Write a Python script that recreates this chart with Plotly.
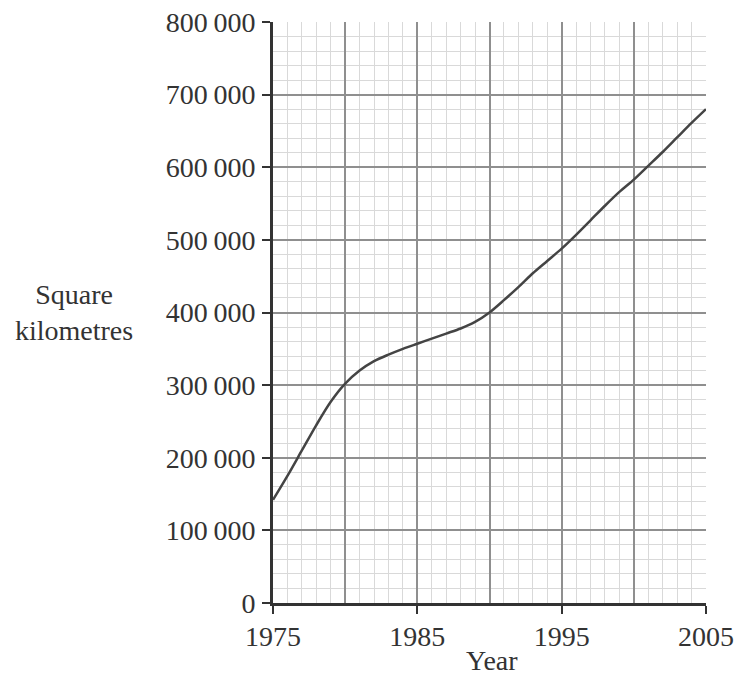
import plotly.graph_objects as go

years = list(range(1975, 2006))
area_km2 = [142000, 175000, 210000, 245000, 277000, 302000, 320000, 333000, 342000, 350000,
            357000, 364000, 371000, 378000, 387000, 400000, 417000, 435000, 454000, 471000,
            488000, 507000, 527000, 547000, 566000, 583000, 602000, 621000, 641000, 661000, 680000]

x_tick_vals = [1975, 1985, 1995, 2005]
x_tick_text = ["1975", "1985", "1995", "2005"]
x_mid_vals = [1980, 1990, 2000]
y_tick_vals = [0, 100000, 200000, 300000, 400000, 500000, 600000, 700000, 800000]
y_tick_text = ["0", "100\u2009000", "200\u2009000", "300\u2009000", "400\u2009000",
               "500\u2009000", "600\u2009000", "700\u2009000", "800\u2009000"]

FONT = "Liberation Serif, Times New Roman, serif"
INK = "#333333"
MAJOR = "#8f8f8f"
MINOR = "#d9d9d9"

fig = go.Figure()
fig.add_trace(go.Scatter(x=years, y=area_km2, mode="lines",
                         line=dict(color="#444444", width=2.5, shape="spline", smoothing=0.8),
                         hoverinfo="skip", showlegend=False))
# invisible trace to host the secondary x axis (5-year grid lines)
fig.add_trace(go.Scatter(x=[years[0], years[-1]], y=[0, 0], xaxis="x2", mode="lines",
                         line=dict(width=0), opacity=0, hoverinfo="skip", showlegend=False))

fig.update_layout(
    width=737, height=677,
    margin=dict(l=273, r=31, t=22, b=74),
    paper_bgcolor="white", plot_bgcolor="white",
    font=dict(family=FONT, color=INK, size=28),
    xaxis=dict(range=[1975, 2005], tickvals=x_tick_vals, ticktext=x_tick_text,
               ticks="outside", ticklen=8, tickwidth=1.5, tickcolor=INK,
               showgrid=True, gridcolor=MAJOR, gridwidth=1.5,
               minor=dict(dtick=1, showgrid=True, gridcolor=MINOR, gridwidth=1, ticks=""),
               showline=True, linecolor=INK, linewidth=3, zeroline=False,
               tickfont=dict(size=28), ticklabelstandoff=-2, automargin=False),
    xaxis2=dict(overlaying="x", matches="x", tickvals=x_mid_vals, showticklabels=False,
                ticks="", showgrid=True, gridcolor=MAJOR, gridwidth=1.5,
                showline=False, zeroline=False, automargin=False),
    yaxis=dict(range=[0, 800000], tickvals=y_tick_vals, ticktext=y_tick_text,
               ticks="outside", ticklen=8, tickwidth=1.5, tickcolor=INK,
               showgrid=True, gridcolor=MAJOR, gridwidth=1.5,
               minor=dict(dtick=20000, showgrid=True, gridcolor=MINOR, gridwidth=1, ticks=""),
               showline=True, linecolor=INK, linewidth=3, zeroline=False,
               tickfont=dict(size=28), ticklabelstandoff=1, automargin=False),
    annotations=[
        dict(text="Square<br>kilometres", xref="paper", yref="paper", x=-0.46, y=0.50,
             xanchor="center", yanchor="middle", showarrow=False, font=dict(size=28)),
        dict(text="Year", xref="paper", yref="paper", x=0.505, y=-0.068,
             xanchor="center", yanchor="top", showarrow=False, font=dict(size=28)),
    ],
)

fig.write_html("out.html", config={"displayModeBar": False},
               post_script="document.body.style.margin='0';")
